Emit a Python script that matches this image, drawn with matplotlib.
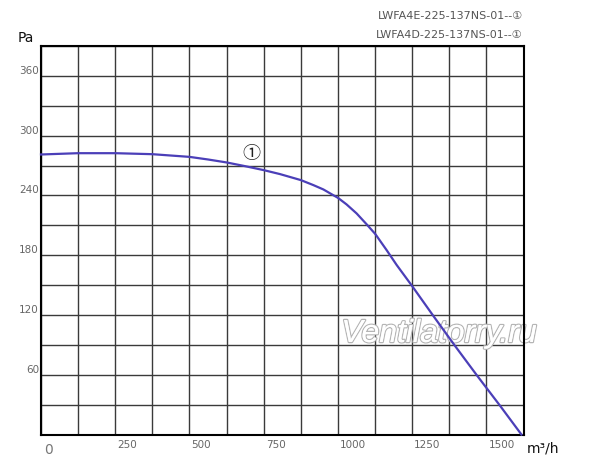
import matplotlib
matplotlib.use("Agg")
import matplotlib.pyplot as plt
import matplotlib.patheffects as pe
from matplotlib.transforms import ScaledTranslation

# Data
flow = [0, 125, 250, 375, 500, 562, 625, 687, 750, 805, 875, 917, 951, 984, 1000,
        1029, 1063, 1097, 1126, 1164, 1198, 1250, 1321, 1394, 1469, 1546, 1618]
pressure = [281.1, 282.4, 282.4, 281.4, 278.7, 276.1, 273.1, 269.4, 265.4, 261.4, 255.4,
            250.4, 246.0, 240.3, 237.6, 231.0, 221.9, 210.9, 201.2, 185.1, 170.1, 149.0,
            119.2, 89.1, 59.0, 28.9, 0.0]

x_ticks = [0, 250, 500, 750, 1000, 1250, 1500]
x_tick_labels = ["0", "250", "500", "750", "1000", "1250", "1500"]
y_ticks = [60, 120, 180, 240, 300, 360]
y_tick_labels = ["60", "120", "180", "240", "300", "360"]
header_lines = ["LWFA4E-225-137NS-01--①", "LWFA4D-225-137NS-01--①"]
curve_label = "①"
watermark = "Ventilatorry.ru"

fig = plt.figure(figsize=(6.0, 4.71), dpi=100)
ax = fig.add_axes([41 / 600, 36.5 / 471, 482.5 / 600, 388.5 / 471])

ax.set_xlim(0, 1625)
ax.set_ylim(0, 390)

ax.set_xticks(x_ticks)
ax.set_xticklabels(x_tick_labels)
ax.set_xticks([125 * i for i in range(14)], minor=True)
ax.set_yticks(y_ticks)
ax.set_yticklabels(y_tick_labels)
ax.set_yticks([30 * i for i in range(14)], minor=True)

ax.grid(True, which="both", color="#3a3a3a", linewidth=1.0)
ax.set_axisbelow(True)
ax.tick_params(which="both", length=0)
ax.tick_params(axis="x", pad=4, labelsize=7.5, labelcolor="#666666")
ax.tick_params(axis="y", pad=1.5, labelsize=7.5, labelcolor="#666666")

for s in ax.spines.values():
    s.set_color("black")
    s.set_linewidth(1.5)

off = ScaledTranslation(2 / 100, 0, fig.dpi_scale_trans)
for i, lab in enumerate(ax.get_xticklabels()):
    lab.set_ha("left")
    if i == 0:
        lab.set_fontsize(10)
        lab.set_color("#777777")
        lab.set_transform(lab.get_transform() + ScaledTranslation(3.5 / 100, -3 / 100, fig.dpi_scale_trans))
    else:
        lab.set_transform(lab.get_transform() + off)
for lab in ax.get_yticklabels():
    lab.set_va("bottom")

ax.text(0.825, 0.2587, watermark, transform=ax.transAxes, ha="center", va="center",
        fontsize=23, style="italic", family="Liberation Sans", color="white", zorder=2.2,
        path_effects=[pe.withStroke(linewidth=1.8, foreground="#b5b5b5"), pe.Normal()])

ax.plot(flow, pressure, color="#4b3fb8", linewidth=1.6, zorder=6, clip_on=False,
        solid_joinstyle="round")

ax.text(707, 281.5, curve_label, ha="center", va="center", fontsize=13,
        family=["DejaVu Serif", "Noto Sans CJK SC"], color="#222222", zorder=7)

fig.text(18 / 600, 1 - 37.5 / 471, "Pa", ha="left", va="center", fontsize=10, color="#111111")
fig.text(527 / 600, 1 - 448 / 471, "m³/h", ha="left", va="center", fontsize=10, color="#111111")

for k, line in enumerate(header_lines):
    fig.text(523 / 600, 1 - (16 + 19 * k) / 471, line, ha="right", va="center", fontsize=8,
             color="#555555", family=["DejaVu Sans", "Noto Sans CJK SC"])

fig.savefig("out.png", dpi=100)
